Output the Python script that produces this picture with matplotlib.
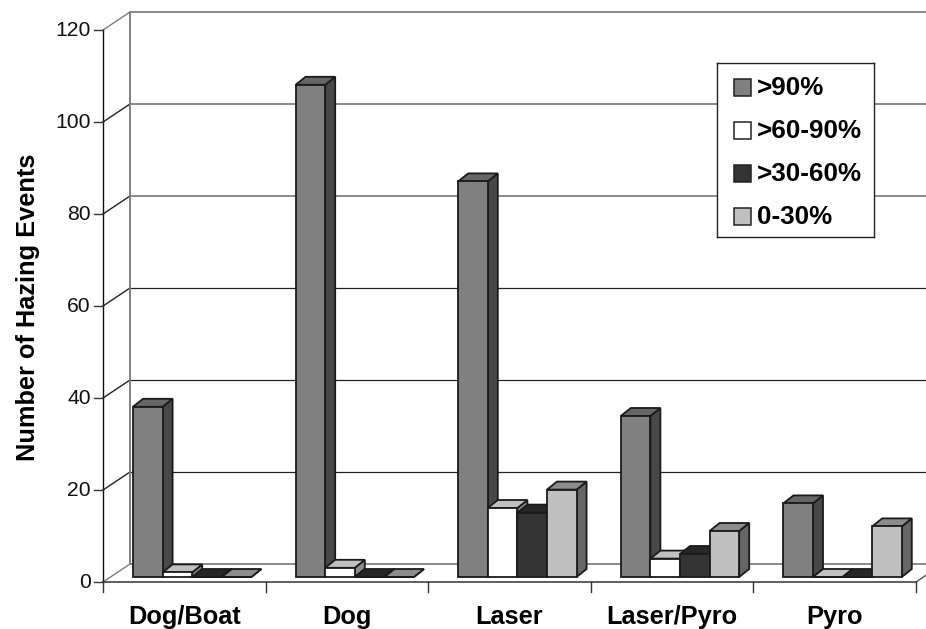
import numpy as np
from matplotlib import pyplot as plt
from matplotlib.patches import Polygon

plt.rcParams['font.family'] = ['Liberation Sans', 'DejaVu Sans']

categories = ['Dog/Boat', 'Dog', 'Laser', 'Laser/Pyro', 'Pyro']
series_names = ['>90%', '>60-90%', '>30-60%', '0-30%']
over_90 = [37, 107, 86, 35, 16]
over_60 = [1, 2, 15, 4, 0]
over_30 = [0, 0, 14, 5, 0]
under_30 = [0, 0, 19, 10, 11]
yticks = [0, 20, 40, 60, 80, 100, 120]

face = ['#808080', '#ffffff', '#333333', '#c0c0c0']
top = ['#666666', '#c0c0c0', '#262626', '#8c8c8c']
side = ['#484848', '#8c8c8c', '#1a1a1a', '#666666']

W, H = 926, 629
L, R, T, B = 103, 916, 30, 582   # front plane in pixels

fig = plt.figure(figsize=(W / 100, H / 100), dpi=100)
ax = fig.add_axes([L / W, 1 - B / H, (R - L) / W, (B - T) / H])
ax.set_xlim(0, 5)
ax.set_ylim(0, 120)
ax.axis('off')

# pixel sizes expressed in data units
px = 5 / (R - L)
py = 120 / (B - T)
wall_dx, wall_dy = 27 * px, 18 * py
bar_dx, bar_dy = 10 * px, 8 * py
base_dy = 5 * py
bar_w = 29.6 * px
first = 30 * px

# walls and gridlines, the picture has the top ones and the floor in grey
for v in yticks:
    back = '#808080' if v in (0, 80, 100, 120) else '#222222'
    diag = '#808080' if v in (0, 120) else '#222222'
    lw = 1.3 if back == '#808080' else 0.9
    ax.plot([wall_dx, 5 + wall_dx], [v + wall_dy, v + wall_dy], color=back, lw=lw,
            clip_on=False, zorder=1)
    ax.plot([0, wall_dx], [v, v + wall_dy], color=diag, lw=1.0, clip_on=False, zorder=1)
ax.plot([wall_dx, wall_dx], [wall_dy, 120 + wall_dy], color='#808080', lw=1.4,
        clip_on=False, zorder=1)
ax.plot([5, 5 + wall_dx], [0, wall_dy], color='#555555', lw=1, clip_on=False, zorder=1)

# axes
ax.plot([0, 0], [0, 120], color='#111111', lw=1.0, clip_on=False, zorder=2)
ax.plot([0, 5], [0, 0], color='#333333', lw=1.1, clip_on=False, zorder=2)
for v in yticks:
    ax.plot([-9 * px, 0], [v, v], color='#333333', lw=1.0, clip_on=False, zorder=2)
    ax.text(-12 * px, v - 1 * py, str(v), ha='right', va='center', fontsize=15.2, color='#111111')
for i in range(6):
    ax.plot([i, i], [0, -10 * py], color='#333333', lw=1.0, clip_on=False, zorder=2)
for i, c in enumerate(categories):
    ax.text(i + 0.5, -35 * py, c, ha='center', va='center', fontsize=18.3,
            fontweight='bold', color='black')
fig.text(28.5 / W, 1 - 307 / H, 'Number of Hazing Events', rotation=90, ha='center',
         va='center', fontsize=18.3, fontweight='bold')

# bars
all_series = [over_90, over_60, over_30, under_30]
edge = dict(edgecolor='#1a1a1a', lw=1.3, joinstyle='miter', clip_on=False)
for g in range(len(categories)):
    for s, vals in enumerate(all_series):
        x0 = g + first + s * bar_w
        x1 = x0 + bar_w
        y0 = base_dy
        y1 = base_dy + vals[g]
        z = 5 + g * 10 + s
        ax.add_patch(Polygon([(x1, y0), (x1 + bar_dx, y0 + bar_dy),
                              (x1 + bar_dx, y1 + bar_dy), (x1, y1)],
                             facecolor=side[s], zorder=z, **edge))
        ax.add_patch(Polygon([(x0, y1), (x1, y1), (x1 + bar_dx, y1 + bar_dy),
                              (x0 + bar_dx, y1 + bar_dy)],
                             facecolor=top[s], zorder=z, **edge))
        ax.add_patch(Polygon([(x0, y0), (x1, y0), (x1, y1), (x0, y1)],
                             facecolor=face[s], zorder=z + 0.5, **edge))

# legend box
lax = fig.add_axes([716.5 / W, 1 - 237 / H, 157.5 / W, 174 / H], zorder=100)
lax.set_xlim(0, 157.5)
lax.set_ylim(174, 0)
lax.set_xticks([])
lax.set_yticks([])
for sp in lax.spines.values():
    sp.set_linewidth(1.0)
    sp.set_color('#222222')
for s, name in enumerate(series_names):
    yc = 24 + s * 43
    lax.add_patch(plt.Rectangle((17.5, yc - 8.5), 17, 17, facecolor=face[s],
                                edgecolor='#222222', lw=1.1))
    lax.text(40, yc + 1, name, va='center', ha='left', fontsize=18.7, fontweight='bold')

fig.savefig('out.png', dpi=100)
